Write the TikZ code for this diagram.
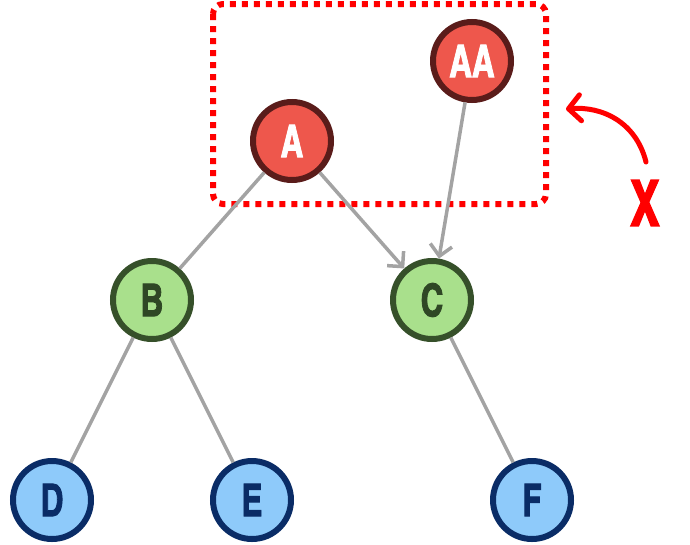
\documentclass[tikz,border=0pt]{standalone}
\usepackage{fontspec}
\usepackage{graphicx}
\newfontfamily\condfont[FakeBold=2]{texgyreheroscn-bold.otf}
\newcommand{\nodelabel}[1]{\scalebox{0.85}[1]{#1}}
\usetikzlibrary{arrows.meta}
\definecolor{redfill}{HTML}{EE574C}
\definecolor{redline}{HTML}{5A1C1A}
\definecolor{greenfill}{HTML}{A9E08C}
\definecolor{greenline}{HTML}{36502A}
\definecolor{greentext}{HTML}{2F4725}
\definecolor{bluefill}{HTML}{8ECAFA}
\definecolor{blueline}{HTML}{0A2C66}
\definecolor{edgegray}{HTML}{A3A3A3}
\definecolor{markred}{HTML}{FF0000}
\begin{document}
\begin{tikzpicture}[x=1pt,y=-1pt,
  treenode/.style={circle,line width=6pt,minimum size=78pt,inner sep=0pt,font=\condfont\fontsize{45}{45}\selectfont},
  rednode/.style={treenode,fill=redfill,draw=redline,text=white},
  greennode/.style={treenode,fill=greenfill,draw=greenline,text=greentext},
  bluenode/.style={treenode,fill=bluefill,draw=blueline,text=blueline},
  edge/.style={draw=edgegray,line width=3.5pt},
  arredge/.style={edge,-{Straight Barb[length=11pt,width=22pt,line width=3.5pt]}},
  selbox/.style={draw=markred,line width=6pt,dash pattern=on 6pt off 6pt,rounded corners=10pt},
  curvearrow/.style={draw=markred,line width=5pt,line cap=round,-{Straight Barb[length=12pt,width=26pt,line width=5pt,round]}}
]
\useasboundingbox (0,0) rectangle (690,544);
\draw[selbox] (213,4) rectangle (546,204);
\node[rednode] (A) at (292,141) {\nodelabel{A}};
\node[rednode] (AA) at (472,61) {\nodelabel{AA}};
\node[greennode] (B) at (152,300) {\nodelabel{B}};
\node[greennode] (C) at (432,300) {\nodelabel{C}};
\node[bluenode] (D) at (52,500) {\nodelabel{D}};
\node[bluenode] (E) at (252,500) {\nodelabel{E}};
\node[bluenode] (F) at (532,500) {\nodelabel{F}};
\draw[edge] (A) -- (B);
\draw[arredge] (A) -- (C);
\draw[arredge] (AA) -- (C);
\draw[edge] (B) -- (D);
\draw[edge] (B) -- (E);
\draw[edge] (C) -- (F);
\coordinate (cstart) at (646,162);
\coordinate (cend) at (566,109);
\draw[curvearrow] (cstart) .. controls (636,122) and (602,106) .. (cend);
\node[text=markred,font=\condfont\fontsize{64}{64}\selectfont] (X) at (645,203) {\nodelabel{X}};
\end{tikzpicture}
\end{document}
